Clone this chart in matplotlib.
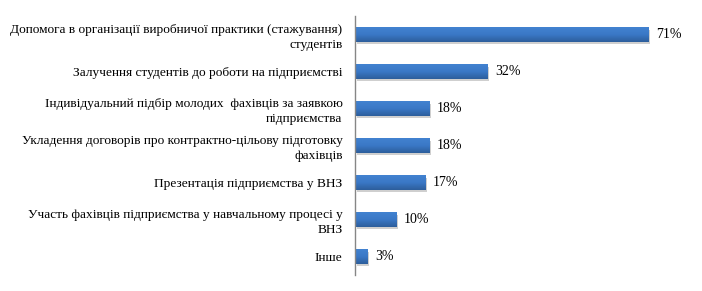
import matplotlib
matplotlib.use('Agg')
import matplotlib.pyplot as plt
import matplotlib.patheffects as pe
import numpy as np

categories = [
    "Допомога в організації виробничої практики (стажування)\nстудентів",
    "Залучення студентів до роботи на підприємстві",
    "Індивідуальний підбір молодих  фахівців за заявкою\nпідприємства",
    "Укладення договорів про контрактно-цільову підготовку\nфахівців",
    "Презентація підприємства у ВНЗ",
    "Участь фахівців підприємства у навчальному процесі у\nВНЗ",
    "Інше",
]
values = [71, 32, 18, 18, 17, 10, 3]
value_labels = ["71%", "32%", "18%", "18%", "17%", "10%", "3%"]

plt.rcParams['font.family'] = ['Liberation Serif', 'DejaVu Serif']

fig = plt.figure(figsize=(7.02, 2.91), dpi=100)
ax = fig.add_axes([0.5057, 0.055, 0.4703, 0.89])

pos = list(range(len(categories)))[::-1]
bars = ax.barh(pos, values, height=0.38, color='#3A76C2', zorder=2)

# vertical gradient, lighter on top, darker at the bottom
grad = np.linspace(0, 1, 32).reshape(-1, 1)
cmap = matplotlib.colors.LinearSegmentedColormap.from_list('bar', ['#2D5E9C', '#3A78C6', '#4282D0'])
for b in bars:
    b.set_path_effects([pe.SimplePatchShadow(offset=(1.5, -1.5), shadow_rgbFace='#a0a0a0', alpha=0.5),
                        pe.Normal()])
    x0, y0 = b.get_x(), b.get_y()
    im = ax.imshow(grad, extent=[x0, x0 + b.get_width(), y0, y0 + b.get_height()],
                   origin='lower', aspect='auto', cmap=cmap, zorder=3)
    im.set_clip_path(b)

for p, v, lab in zip(pos, values, value_labels):
    ax.text(v + 1.9, p, lab, va='center', ha='left', fontsize=10)

ax.set_yticks(pos)
ax.set_yticklabels(categories, fontsize=9.6, linespacing=1.3)
ax.tick_params(axis='y', length=0, pad=9)
ax.set_xticks([])
ax.set_xlim(0, 80)
ax.set_ylim(-0.5, 6.5)

for s in ['top', 'right', 'bottom']:
    ax.spines[s].set_visible(False)
ax.spines['left'].set_color('#868686')
ax.spines['left'].set_linewidth(1)
ax.spines['left'].set_zorder(4)

fig.savefig('out.png', dpi=100)
